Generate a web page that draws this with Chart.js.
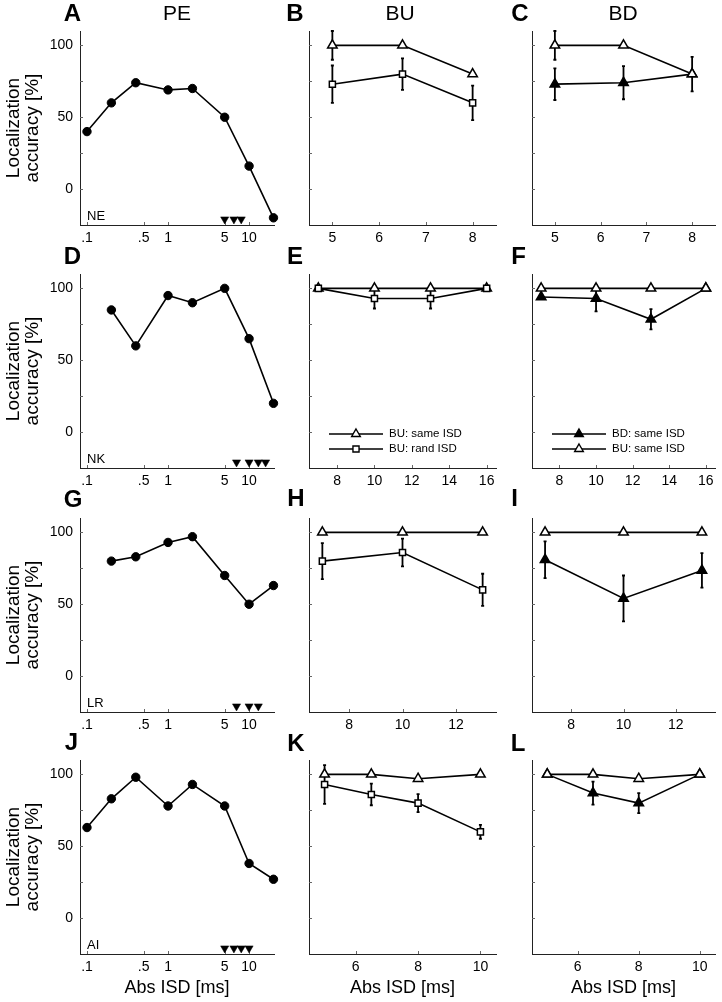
<!DOCTYPE html>
<html><head><meta charset="utf-8">
<script src="https://cdn.jsdelivr.net/npm/chart.js@4.4.0/dist/chart.umd.min.js"></script>
<style>
html,body{margin:0;padding:0;background:#fff;}
body{width:722px;height:1002px;position:relative;overflow:hidden;font-family:'Liberation Sans',Arial,Helvetica,sans-serif;}
canvas{position:absolute;}
.lbl{position:absolute;transform:translate(-50%,-50%);line-height:1;white-space:nowrap;color:#000;z-index:2;}
.let{font-weight:bold;font-size:24px;}
.ttl{font-size:21px;}
</style></head><body>
<script>
// ---------------- data ----------------
const yTicks = [0, 25, 50, 75, 100];
const yLabeled = [0, 50, 100];

const peTicks = [0.1, 0.5, 1, 5, 10];
const peTickLabels = ['.1', '.5', '1', '5', '10'];

const peIsdNE = [0.1, 0.2, 0.4, 1, 2, 5, 10, 20];
const peAccNE = [40, 60, 74, 69, 70, 50, 16, -20];
const peIsdNK = [0.2, 0.4, 1, 2, 5, 10, 20];
const peAccNK = [85, 60, 95, 90, 100, 65, 20];
const peIsdLR = [0.2, 0.4, 1, 2, 5, 10, 20];
const peAccLR = [80, 83, 93, 97, 70, 50, 63];
const peIsdAI = [0.1, 0.2, 0.4, 1, 2, 5, 10, 20];
const peAccAI = [63, 83, 98, 78, 93, 78, 38, 27];
const markerLevel = -21;

const isdNE = [5, 6.5, 8];
const isdNK = [7, 10, 13, 16];
const isdLR = [7, 10, 13];
const isdAI = [5, 6.5, 8, 10];

const ticksNE = [5, 6, 7, 8];
const ticksNK = [8, 10, 12, 14, 16];
const ticksLR = [8, 10, 12];
const ticksAI = [6, 8, 10];

const buSameNE = [100, 100, 80];       const buSameErrNE = [10, 0, 0];
const buRandNE = [73, 80, 60];         const buRandErrNE = [13, 11, 12];
const bdSameNE = [73, 74, 80];         const bdSameErrNE = [11, 11.5, 12];

const buSameNK = [100, 100, 100, 100]; const buSameErrNK = [0, 0, 0, 0];
const buRandNK = [100, 93, 93, 100];   const buRandErrNK = [0, 7, 7, 0];
const bdSameNK = [94, 93, 78.5, 100];  const bdSameErrNK = [0, 9, 7, 0];

const buSameLR = [100, 100, 100];      const buSameErrLR = [0, 0, 0];
const buRandLR = [80, 86, 60];         const buRandErrLR = [12.5, 9.7, 11.2];
const bdSameLR = [81, 54, 73.5];       const bdSameErrLR = [12.8, 16, 12];

const buSameAI = [100, 100, 97, 100];  const buSameErrAI = [0, 0, 0, 0];
const buRandAI = [93, 86, 80, 60];     const buRandErrAI = [13.5, 7.5, 6.3, 4.8];
const bdSameAI = [100, 87, 80, 100];   const bdSameErrAI = [0, 8, 7, 0];

// ---------------- layout ----------------
const colL = [80, 303, 526];
const colR = [274, 497, 719];
const rowT = [31, 274, 518, 760];
const AREA_H = 194;

Chart.defaults.font.family = "'Liberation Sans', Arial, Helvetica, sans-serif";
Chart.defaults.color = '#000';

function pts(xs, ys) { return xs.map((x, i) => ({x: x, y: ys[i]})); }

function drawMarker(ctx, style, x, y, r, fill) {
  ctx.beginPath();
  if (style === 'triangle') {
    const h = r * Math.sqrt(3) / 2;
    ctx.moveTo(x, y - r); ctx.lineTo(x + h, y + r / 2); ctx.lineTo(x - h, y + r / 2); ctx.closePath();
  } else {
    const s = r * Math.SQRT1_2;
    ctx.rect(x - s, y - s, 2 * s, 2 * s);
  }
  ctx.fillStyle = fill; ctx.fill();
  ctx.lineWidth = 1.4; ctx.strokeStyle = '#000'; ctx.stroke();
}

const errorBarPlugin = {
  id: 'errbars',
  beforeDatasetsDraw(chart) {
    const ctx = chart.ctx, xs = chart.scales.x, ys = chart.scales.y;
    ctx.save();
    ctx.strokeStyle = '#000'; ctx.lineWidth = 1.8;
    chart.data.datasets.forEach(ds => {
      if (!ds.errors) return;
      ds.data.forEach((p, j) => {
        const e = ds.errors[j]; if (!e) return;
        const px = xs.getPixelForValue(p.x);
        const t = ys.getPixelForValue(p.y + e), b = ys.getPixelForValue(p.y - e);
        ctx.beginPath();
        ctx.moveTo(px, t); ctx.lineTo(px, b);
        ctx.moveTo(px - 1.5, t); ctx.lineTo(px + 1.5, t);
        ctx.moveTo(px - 1.5, b); ctx.lineTo(px + 1.5, b);
        ctx.stroke();
      });
    });
    ctx.restore();
  }
};

const inwardTicks = {
  id: 'inticks',
  beforeDatasetsDraw(chart) {
    const ctx = chart.ctx, a = chart.chartArea, xs = chart.scales.x, ys = chart.scales.y;
    ctx.save(); ctx.strokeStyle = '#666'; ctx.lineWidth = 1;
    ctx.beginPath();
    xs.ticks.forEach(t => { const p = Math.round(xs.getPixelForValue(t.value)) + 0.5; ctx.moveTo(p, a.bottom); ctx.lineTo(p, a.bottom - 3); });
    ys.ticks.forEach(t => { const p = Math.round(ys.getPixelForValue(t.value)) + 0.5; ctx.moveTo(a.left, p); ctx.lineTo(a.left + 3, p); });
    ctx.stroke(); ctx.restore();
  }
};

function makeChart(r, c, datasets, xcfg, extra) {
  const wy = c === 0 ? 80 : 1;
  const padT = 16, padR = c === 2 ? 3 : 6;
  const xh = r === 3 ? 46 : 30;
  const left = colL[c] - wy, top = rowT[r] - padT;
  const w = colR[c] + padR - left, h = padT + AREA_H + xh;
  const cv = document.createElement('canvas');
  cv.width = w; cv.height = h;
  cv.style.left = left + 'px'; cv.style.top = top + 'px';
  cv.style.width = w + 'px'; cv.style.height = h + 'px';
  document.body.appendChild(cv);

  const plugins = [errorBarPlugin, inwardTicks];
  if (extra) plugins.push({id: 'extra' + r + c, afterDraw: extra});

  new Chart(cv, {
    type: 'line',
    data: {datasets: datasets},
    options: {
      responsive: false, animation: false, devicePixelRatio: 1, events: [],
      layout: {padding: {top: padT, right: padR, left: 0, bottom: 0}},
      plugins: {legend: {display: false}, tooltip: {enabled: false}},
      scales: {
        x: {
          type: xcfg.type, min: xcfg.min, max: xcfg.max, bounds: 'data',
          afterBuildTicks: s => { s.ticks = xcfg.ticks.map(v => ({value: v})); },
          afterFit: s => { s.height = xh; },
          ticks: {callback: (v, i) => xcfg.labels[i], font: {size: 14}, color: '#000', padding: 5, maxRotation: 0, autoSkip: false},
          grid: {display: false, drawTicks: false, tickLength: 0},
          border: {display: true, color: '#222', width: 1},
          title: r === 3 ? {display: true, text: 'Abs ISD [ms]', font: {size: 18}, color: '#000', padding: {top: 0, bottom: 1}} : {display: false}
        },
        y: {
          type: 'linear', min: -25, max: 110, bounds: 'data',
          afterBuildTicks: s => { s.ticks = yTicks.map(v => ({value: v})); },
          afterFit: s => { s.width = wy; },
          ticks: {display: c === 0, callback: v => yLabeled.includes(v) ? String(v) : '', font: {size: 14}, color: '#000', padding: 7},
          grid: {display: false, drawTicks: false, tickLength: 0},
          border: {display: true, color: '#222', width: 1},
          title: c === 0 ? {display: true, text: ['Localization', 'accuracy [%]'], font: {size: 19, lineHeight: 1}, color: '#000', padding: {top: 4, bottom: 0}} : {display: false}
        }
      }
    },
    plugins: plugins
  });
}

const LW = 1.6;
function peSets(xs, ys, marks) {
  return [
    {data: pts(xs, ys), borderColor: '#000', borderWidth: LW, pointStyle: 'circle', pointRadius: 4.2,
     pointBackgroundColor: '#000', pointBorderColor: '#000', pointBorderWidth: 1, clip: false},
    {data: pts(marks, marks.map(() => markerLevel)), showLine: false, pointStyle: 'triangle', pointRotation: 180,
     pointRadius: 4.7, pointBackgroundColor: '#000', pointBorderColor: '#000', pointBorderWidth: 0.5, clip: false}
  ];
}
function openTri(xs, ys, errs) {
  return {data: pts(xs, ys), errors: errs, borderColor: '#000', borderWidth: LW, pointStyle: 'triangle', pointRadius: 5.5,
          pointBackgroundColor: '#fff', pointBorderColor: '#000', pointBorderWidth: 1.5, clip: false};
}
function fillTri(xs, ys, errs) {
  return {data: pts(xs, ys), errors: errs, borderColor: '#000', borderWidth: LW, pointStyle: 'triangle', pointRadius: 5.5,
          pointBackgroundColor: '#000', pointBorderColor: '#000', pointBorderWidth: 1.5, clip: false};
}
function square(xs, ys, errs) {
  return {data: pts(xs, ys), errors: errs, borderColor: '#000', borderWidth: LW, pointStyle: 'rect', pointRadius: 4.3,
          pointBackgroundColor: '#fff', pointBorderColor: '#000', pointBorderWidth: 1.5, clip: false};
}

function noteFn(text) {
  return chart => {
    const ctx = chart.ctx, a = chart.chartArea;
    ctx.save(); ctx.font = "13px 'Liberation Sans', Arial, sans-serif"; ctx.fillStyle = '#000';
    ctx.textAlign = 'left'; ctx.textBaseline = 'middle';
    ctx.fillText(text, a.left + 7, a.bottom - 9);
    ctx.restore();
  };
}
function legendFn(items) {
  return chart => {
    const ctx = chart.ctx, a = chart.chartArea;
    ctx.save();
    items.forEach((it, k) => {
      const y = a.bottom - 34 + k * 15;
      ctx.beginPath(); ctx.moveTo(a.left + 20, y); ctx.lineTo(a.left + 74, y);
      ctx.strokeStyle = '#000'; ctx.lineWidth = 1.6; ctx.stroke();
      drawMarker(ctx, it.style, a.left + 47, y, it.style === 'triangle' ? 5 : 4.3, it.fill);
      ctx.font = "11.5px 'Liberation Sans', Arial, sans-serif"; ctx.fillStyle = '#000';
      ctx.textAlign = 'left'; ctx.textBaseline = 'middle';
      ctx.fillText(it.label, a.left + 80, y);
    });
    ctx.restore();
  };
}

const peX = {type: 'logarithmic', min: 0.082, max: 20.3, ticks: peTicks, labels: peTickLabels};
function lin(min, max, t) { return {type: 'linear', min: min, max: max, ticks: t, labels: t.map(String)}; }

// Row A-C
makeChart(0, 0, peSets(peIsdNE, peAccNE, isdNE), peX, noteFn('NE'));
makeChart(0, 1, [square(isdNE, buRandNE, buRandErrNE), openTri(isdNE, buSameNE, buSameErrNE)], lin(4.5, 8.5, ticksNE));
makeChart(0, 2, [openTri(isdNE, buSameNE, buSameErrNE), fillTri(isdNE, bdSameNE, bdSameErrNE)], lin(4.5, 8.5, ticksNE));
// Row D-F
makeChart(1, 0, peSets(peIsdNK, peAccNK, isdNK), peX, noteFn('NK'));
makeChart(1, 1, [square(isdNK, buRandNK, buRandErrNK), openTri(isdNK, buSameNK, buSameErrNK)], lin(6.5, 16.5, ticksNK),
  legendFn([{style: 'triangle', fill: '#fff', label: 'BU: same ISD'}, {style: 'rect', fill: '#fff', label: 'BU: rand ISD'}]));
makeChart(1, 2, [openTri(isdNK, buSameNK, buSameErrNK), fillTri(isdNK, bdSameNK, bdSameErrNK)], lin(6.5, 16.5, ticksNK),
  legendFn([{style: 'triangle', fill: '#000', label: 'BD: same ISD'}, {style: 'triangle', fill: '#fff', label: 'BU: same ISD'}]));
// Row G-I
makeChart(2, 0, peSets(peIsdLR, peAccLR, isdLR), peX, noteFn('LR'));
makeChart(2, 1, [square(isdLR, buRandLR, buRandErrLR), openTri(isdLR, buSameLR, buSameErrLR)], lin(6.5, 13.5, ticksLR));
makeChart(2, 2, [openTri(isdLR, buSameLR, buSameErrLR), fillTri(isdLR, bdSameLR, bdSameErrLR)], lin(6.5, 13.5, ticksLR));
// Row J-L
makeChart(3, 0, peSets(peIsdAI, peAccAI, isdAI), peX, noteFn('AI'));
makeChart(3, 1, [square(isdAI, buRandAI, buRandErrAI), openTri(isdAI, buSameAI, buSameErrAI)], lin(4.5, 10.5, ticksAI));
makeChart(3, 2, [openTri(isdAI, buSameAI, buSameErrAI), fillTri(isdAI, bdSameAI, bdSameErrAI)], lin(4.5, 10.5, ticksAI));

// panel letters and column titles
const letters = [['A', 72.5, 13], ['B', 295, 13], ['C', 520, 13],
                 ['D', 72.5, 256], ['E', 295, 256], ['F', 518.5, 256],
                 ['G', 73, 499], ['H', 296, 498], ['I', 514.5, 498],
                 ['J', 71.5, 742], ['K', 296, 743], ['L', 518, 743]];
const titles = [['PE', 177, 12], ['BU', 400, 12], ['BD', 623, 12]];
letters.forEach(([t, x, y]) => {
  const d = document.createElement('div'); d.className = 'lbl let'; d.textContent = t;
  d.style.left = x + 'px'; d.style.top = y + 'px'; document.body.appendChild(d);
});
titles.forEach(([t, x, y]) => {
  const d = document.createElement('div'); d.className = 'lbl ttl'; d.textContent = t;
  d.style.left = x + 'px'; d.style.top = y + 'px'; document.body.appendChild(d);
});
</script>
</body></html>
